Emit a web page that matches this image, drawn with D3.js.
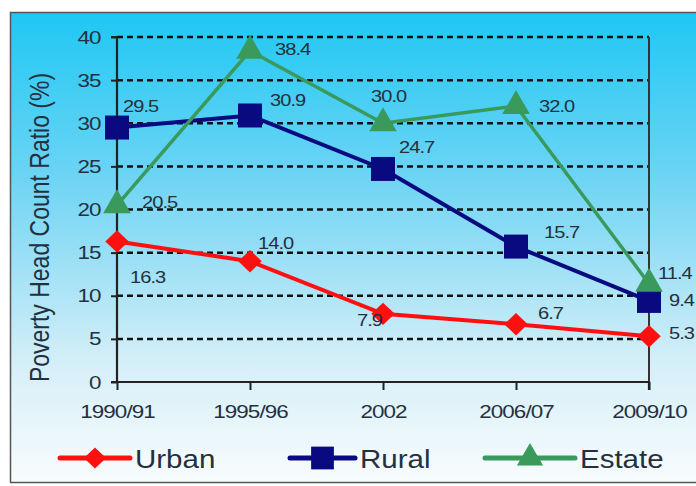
<!DOCTYPE html>
<html><head><meta charset="utf-8">
<script src="https://cdn.jsdelivr.net/npm/d3@7"></script>
<style>body{margin:0;background:#fff;}svg{display:block;font-family:"Liberation Sans",Arial,sans-serif;}</style>
</head><body>
<svg id="c" width="696" height="486"></svg>
<script>
const categories = ["1990/91","1995/96","2002","2006/07","2009/10"];
const urban  = [16.3, 14.0, 7.9, 6.7, 5.3];
const rural  = [29.5, 30.9, 24.7, 15.7, 9.4];
const estate = [20.5, 38.4, 30.0, 32.0, 11.4];
const yTicks = [0,5,10,15,20,25,30,35,40];
const seriesNames = ["Urban","Rural","Estate"];

const SX = 1.18;
const TXT = "#243040";
const svg = d3.select("#c");
const defs = svg.append("defs");
const g1 = defs.append("linearGradient").attr("id","bg").attr("x1",0).attr("y1",0).attr("x2",0).attr("y2",1);
g1.append("stop").attr("offset","0%").attr("stop-color","#1ec8f4");
g1.append("stop").attr("offset","35%").attr("stop-color","#6dd4f4");
g1.append("stop").attr("offset","75%").attr("stop-color","#d6eff8");
g1.append("stop").attr("offset","100%").attr("stop-color","#f8fcfd");

svg.append("rect").attr("x",10.5).attr("y",12.5).attr("width",700).attr("height",470)
  .attr("fill","url(#bg)").attr("stroke","#555").attr("stroke-width",1.5);

const L=117, R=649, T=37, B=382;
const x = d3.scalePoint().domain(categories).range([L,R]).padding(0);
const y = d3.scaleLinear().domain([0,40]).range([B,T]);

function addText(parent, px, py, str, size, anchor){
  return parent.append("text").attr("transform",`translate(${px},${py}) scale(${SX},1)`)
    .attr("font-size",size).attr("fill",TXT).attr("text-anchor",anchor||"start").text(str);
}

// gridlines
svg.append("g").selectAll("line").data(yTicks.filter(d=>d>0)).join("line")
  .attr("x1",L).attr("x2",R).attr("y1",d=>y(d)).attr("y2",d=>y(d))
  .attr("stroke","#111").attr("stroke-width",2.5).attr("stroke-dasharray","6,4");

// right border
svg.append("line").attr("x1",R).attr("x2",R).attr("y1",T).attr("y2",B).attr("stroke","#333").attr("stroke-width",2);

// axes
const yAxis = svg.append("g").attr("transform",`translate(${L},0)`)
  .call(d3.axisLeft(y).tickValues(yTicks).tickSize(6).tickPadding(8));
const xAxis = svg.append("g").attr("transform",`translate(0,${B})`)
  .call(d3.axisBottom(x).tickSize(8).tickPadding(15));
[yAxis,xAxis].forEach(a=>{
  a.select(".domain").attr("stroke","#222").attr("stroke-width",2.2);
  a.selectAll(".tick line").attr("stroke","#222").attr("stroke-width",2);
  a.selectAll("text").attr("font-size",19).attr("fill",TXT).attr("font-family","Liberation Sans, Arial, sans-serif")
    .attr("letter-spacing",-0.8).attr("transform",`scale(${SX},1)`);
});
yAxis.select(".domain").attr("d",`M-6,${B}H0V${T}H-6`);
xAxis.select(".domain").attr("d",`M${L},0H${R}V8`);

// y title
svg.append("text").attr("transform",`translate(49,${(T+B)/2+18}) rotate(-90) scale(1,${SX})`)
  .attr("text-anchor","middle").attr("font-size",23).attr("fill",TXT).text("Poverty Head Count Ratio (%)");

const line = d3.line().x((d,i)=>x(categories[i])).y(d=>y(d));
const diamond = {draw(ctx,size){const r=Math.sqrt(size)/2; ctx.moveTo(0,-r); ctx.lineTo(r*1.05,0); ctx.lineTo(0,r); ctx.lineTo(-r*1.05,0); ctx.closePath();}};
const series = [
  {name:seriesNames[0], values:urban, color:"#ff1010", sym:diamond, size:500, w:4},
  {name:seriesNames[1], values:rural, color:"#0a0a80", sym:d3.symbolSquare, size:576, w:4},
  {name:seriesNames[2], values:estate, color:"#3a9a5c", sym:d3.symbolTriangle, size:330, w:3.5},
];
series.forEach(s=>{
  svg.append("path").datum(s.values).attr("d",line).attr("fill","none").attr("stroke",s.color).attr("stroke-width",s.w);
  svg.append("g").selectAll("path").data(s.values).join("path")
    .attr("transform",(d,i)=>`translate(${x(categories[i])},${y(d)})`)
    .attr("d",d3.symbol().type(s.sym).size(s.size)).attr("fill",s.color);
});

// value labels (offsets from point)
const labelOffsets = {
  Urban:  [[13,42],[8,-12],[-26,12],[22,-5],[20,3]],
  Rural:  [[6,-16],[20,-9],[16,-16],[28,-9],[20,5]],
  Estate: [[25,3],[25,4],[-12,-21],[23,6],[9,-5]],
};
const lblG = svg.append("g");
series.forEach(s=>{
  s.values.forEach((d,i)=>{
    addText(lblG, x(categories[i])+labelOffsets[s.name][i][0], y(d)+labelOffsets[s.name][i][1], d.toFixed(1), 17)
      .attr("letter-spacing",-0.8);
  });
});

// legend
const legX = [60,290,485];
const legW = [70,65,90];
series.forEach((s,i)=>{
  const lg = svg.append("g").attr("transform",`translate(${legX[i]},458)`);
  lg.append("line").attr("x1",0).attr("x2",legW[i]).attr("stroke",s.color).attr("stroke-width",5).attr("stroke-linecap","round");
  lg.append("path").attr("transform",`translate(${legW[i]/2},0)`).attr("d",d3.symbol().type(s.sym).size(s.size*0.9)).attr("fill",s.color);
  addText(lg, legW[i]+5, 10, s.name, 25);
});
</script>
</body></html>
